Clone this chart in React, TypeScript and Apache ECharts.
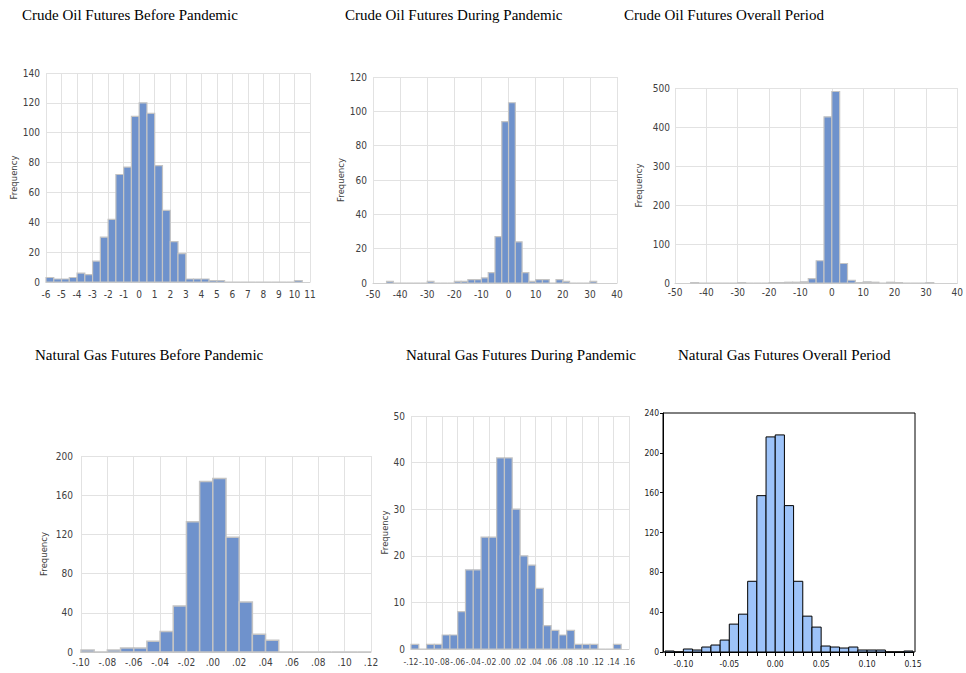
import React, { useEffect, useRef } from 'react';
import * as echarts from 'echarts';

// ---- Data (bin start, bin width, counts) ----
const crudeBeforeStart = -6;
const crudeBeforeWidth = 0.5;
const crudeBeforeCounts = [3, 2, 2, 3, 6, 5, 14, 30, 42, 72, 77, 111, 120, 113, 78, 48, 27, 19, 2, 2, 2, 1, 1, 0, 0, 0, 0, 0, 0, 0, 0, 0, 1];

const crudeDuringStart = -45;
const crudeDuringWidth = 2.5;
const crudeDuringCounts = [1, 0, 0, 0, 0, 0, 1, 0, 0, 0, 1, 1, 2, 2, 3, 6, 27, 94, 105, 24, 6, 1, 2, 2, 0, 2, 1, 0, 0, 0, 1];

const crudeOverallStart = -45;
const crudeOverallWidth = 2.5;
const crudeOverallCounts = [1, 0, 0, 0, 0, 0, 1, 0, 0, 0, 1, 1, 2, 2, 3, 11, 57, 426, 491, 50, 7, 1, 3, 2, 0, 2, 1, 0, 0, 0, 1];

const gasBeforeStart = -0.1;
const gasBeforeWidth = 0.01;
const gasBeforeCounts = [2, 0, 2, 4, 4, 11, 21, 47, 133, 174, 177, 117, 51, 18, 12, 0, 0, 0, 0, 0, 0, 0];

const gasDuringStart = -0.12;
const gasDuringWidth = 0.01;
const gasDuringCounts = [1, 0, 1, 1, 3, 3, 8, 17, 17, 24, 24, 41, 41, 30, 20, 18, 13, 5, 4, 3, 4, 1, 1, 1, 0, 0, 1];

const gasOverallStart = -0.12;
const gasOverallWidth = 0.01;
const gasOverallCounts = [1, 0, 3, 2, 5, 7, 12, 28, 38, 71, 157, 216, 218, 147, 71, 36, 25, 6, 5, 4, 5, 2, 2, 2, 0, 0, 1];

const titles = [
  'Crude Oil Futures Before Pandemic',
  'Crude Oil Futures During Pandemic',
  'Crude Oil Futures Overall Period',
  'Natural Gas Futures Before Pandemic',
  'Natural Gas Futures During Pandemic',
  'Natural Gas Futures Overall Period',
];
const yAxisName = 'Frequency';

function bins(start: number, width: number, counts: number[]) {
  return counts.map((c, i) => [start + i * width, start + (i + 1) * width, c]);
}

const EXCEL_FILL = '#6f92cc';
const EXCEL_STROKE = '#c4c4c4';
const EV_FILL = '#9dc3f9';
const GRID_COLOR = '#e2e2e2';
const LABEL_COLOR = '#404040';
const NARROW = '"Liberation Sans Narrow", "DejaVu Sans Condensed", "Arial Narrow", sans-serif';

const makeRender = (fill: string, stroke: string, lw: number) => (params: any, api: any) => {
  const x0 = api.value(0);
  const x1 = api.value(1);
  const v = api.value(2);
  const a = api.coord([x0, 0]);
  const b = api.coord([x1, v]);
  return {
    type: 'rect',
    shape: { x: a[0], y: b[1], width: b[0] - a[0], height: a[1] - b[1] },
    style: { fill, stroke, lineWidth: lw },
  };
};

const gasFmt = (v: number) => {
  const s = Math.abs(v).toFixed(2).replace(/^0/, '');
  return (v < -1e-9 ? '-' : '') + s;
};

export default function App() {
  const ref = useRef<HTMLDivElement>(null);
  useEffect(() => {
    if (!ref.current) return;
    const chart = echarts.init(ref.current, undefined, { renderer: 'svg' });

    const grids = [
      { left: 46, top: 73, width: 264, height: 209 },
      { left: 373, top: 77, width: 244, height: 206 },
      { left: 675, top: 88, width: 284, height: 195 },
      { left: 81, top: 456, width: 290, height: 196 },
      { left: 411, top: 416, width: 218, height: 233 },
      { left: 665, top: 413, width: 248, height: 239 },
      { left: 663, top: 413, width: 252, height: 239, show: true, borderColor: '#000', borderWidth: 1, backgroundColor: 'transparent' },
    ];

    const excelX = (gi: number, min: number, max: number, interval: number, margin: number, fontSize: number, fmt?: (v: number) => string) => ({
      type: 'value', gridIndex: gi, min, max, interval,
      axisLine: { show: true, lineStyle: { color: '#d0d0d0', width: 1 } },
      axisTick: { show: false },
      splitLine: { show: true, lineStyle: { color: GRID_COLOR, width: 1 } },
      axisLabel: { show: true, margin, fontSize, color: LABEL_COLOR, fontFamily: NARROW, formatter: fmt, showMinLabel: true, showMaxLabel: true },
    });
    const excelY = (gi: number, max: number, interval: number, nameGap: number, margin: number) => ({
      type: 'value', gridIndex: gi, min: 0, max, interval,
      name: yAxisName, nameLocation: 'middle', nameRotate: 90, nameGap,
      nameTextStyle: { fontSize: 8.5, color: LABEL_COLOR, fontFamily: '"DejaVu Sans", sans-serif' },
      axisLine: { show: false, onZero: false },
      axisTick: { show: false },
      splitLine: { show: true, lineStyle: { color: GRID_COLOR, width: 1 } },
      axisLabel: { margin, fontSize: 10, color: LABEL_COLOR, fontFamily: NARROW },
    });

    const xAxes: any[] = [
      excelX(0, -6, 11, 1, 7, 10),
      excelX(1, -50, 40, 10, 6, 10),
      excelX(2, -50, 40, 10, 4, 10),
      excelX(3, -0.1, 0.12, 0.02, 5, 10, gasFmt),
      excelX(4, -0.12, 0.16, 0.02, 8, 8.5, gasFmt),
      {
        type: 'value', gridIndex: 5, min: -0.12, max: 0.15, interval: 0.01,
        axisLine: { show: true, onZero: false, lineStyle: { color: '#000', width: 1 } },
        axisTick: { show: true, inside: false, length: 4, lineStyle: { color: '#000' } },
        splitLine: { show: false },
        axisLabel: {
          interval: 0, margin: 7, fontSize: 8.5, color: '#222', fontFamily: NARROW,
          formatter: (v: number) => (Math.abs(Math.round(v * 100)) % 5 === 0 ? v.toFixed(2) : ''),
        },
      },
      { type: 'value', gridIndex: 6, show: false, min: 0, max: 1 },
    ];
    const yAxes: any[] = [
      excelY(0, 140, 20, 28, 6),
      excelY(1, 120, 20, 27, 6),
      excelY(2, 500, 100, 32, 5),
      excelY(3, 200, 40, 33, 8),
      excelY(4, 50, 10, 18, 6),
      {
        type: 'value', gridIndex: 5, min: 0, max: 240, interval: 40, offset: 2,
        axisLine: { show: true, onZero: false, lineStyle: { color: '#000', width: 1 } },
        axisTick: { show: true, inside: false, length: 3, lineStyle: { color: '#000' } },
        splitLine: { show: false },
        axisLabel: { margin: 4, fontSize: 8.5, color: '#222', fontFamily: NARROW },
      },
      { type: 'value', gridIndex: 6, show: false, min: 0, max: 1 },
    ];

    const datasets = [
      bins(crudeBeforeStart, crudeBeforeWidth, crudeBeforeCounts),
      bins(crudeDuringStart, crudeDuringWidth, crudeDuringCounts),
      bins(crudeOverallStart, crudeOverallWidth, crudeOverallCounts),
      bins(gasBeforeStart, gasBeforeWidth, gasBeforeCounts),
      bins(gasDuringStart, gasDuringWidth, gasDuringCounts),
      bins(gasOverallStart, gasOverallWidth, gasOverallCounts),
    ];

    const series = datasets.map((d, i) => ({
      type: 'custom',
      xAxisIndex: i,
      yAxisIndex: i,
      data: d,
      encode: { x: [0, 1], y: 2 },
      renderItem: i === 5 ? makeRender(EV_FILL, '#000', 1) : makeRender(EXCEL_FILL, EXCEL_STROKE, i === 3 ? 1.5 : 1.2),
      clip: false,
    }));

    const titlePos = [
      { left: 22, top: 7 },
      { left: 345, top: 7 },
      { left: 624, top: 7 },
      { left: 35, top: 347 },
      { left: 406, top: 347 },
      { left: 678, top: 347 },
    ];

    chart.setOption({
      animation: false,
      backgroundColor: '#fff',
      title: titles.map((t, i) => ({
        text: t,
        ...titlePos[i],
        padding: 0,
        textStyle: { fontFamily: '"Liberation Serif", "Times New Roman", serif', fontSize: 15, fontWeight: 'normal', color: '#000' },
      })),
      grid: grids,
      xAxis: xAxes,
      yAxis: yAxes,
      series,
    });
    return () => chart.dispose();
  }, []);
  return <div ref={ref} style={{ position: 'fixed', left: 0, top: 0, width: 966, height: 673 }} />;
}
